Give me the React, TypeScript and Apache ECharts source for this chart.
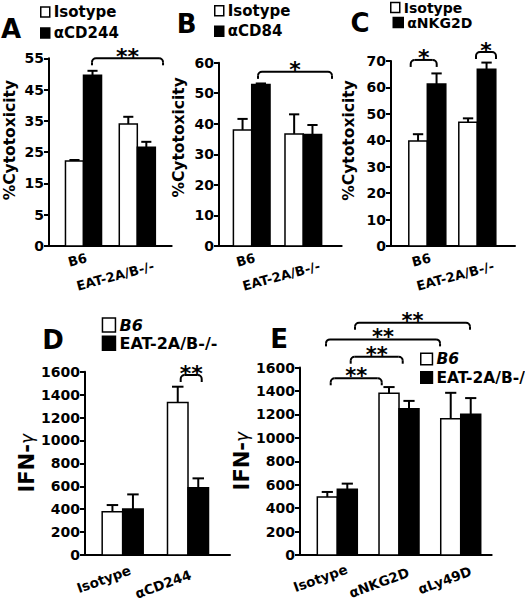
import React, { useEffect, useRef } from "react";
import * as echarts from "echarts";

const FONT = "DejaVu Sans";

// ---------- data ----------
const catABC = ["B6", "EAT-2A/B-/-"];
const catD = ["Isotype", "αCD244"];
const catE = ["Isotype", "αNKG2D", "αLy49D"];

const isoA = [22.2, 34.0];
const isoAErr = [0.3, 2.3];
const cd244A = [49.6, 26.6];
const cd244AErr = [1.4, 1.7];

const isoB = [38.0, 36.7];
const isoBErr = [3.6, 6.4];
const cd84B = [52.9, 36.5];
const cd84BErr = [0.3, 3.1];

const isoC = [39.7, 46.8];
const isoCErr = [2.6, 1.5];
const nkg2dC = [61.3, 66.9];
const nkg2dCErr = [4.0, 2.5];

const b6D = [378, 1332];
const b6DErr = [58, 137];
const eatD = [401, 588];
const eatDErr = [128, 81];

const b6E = [495, 1381, 1162];
const b6EErr = [43, 52, 222];
const eatE = [562, 1247, 1201];
const eatEErr = [47, 68, 138];

// y axis ranges [min, max, interval]
const yRangeA = [-5, 55, 10];
const yRangeB = [0, 60, 10];
const yRangeC = [0, 70, 10];
const yRangeD = [0, 1600, 200];
const yRangeE = [0, 1600, 200];

// significance brackets: [xStart, xEnd, yLevel, mark]
const sigA: [number, number, number, string][] = [[0.158, 1.478, 55, "**"]];
const sigB: [number, number, number, string][] = [[0.122, 1.556, 57, "*"]];
const sigC: [number, number, number, string][] = [
  [-0.332, 0.188, 70.4, "*"],
  [0.974, 1.374, 73.4, "*"],
];
const sigD: [number, number, number, string][] = [[0.888, 1.21, 1571, "**"]];
const sigE: [number, number, number, string][] = [
  [-0.107, 0.72, 1508, "**"],
  [0.217, 1.06, 1692, "**"],
  [-0.183, 1.665, 1840, "**"],
  [0.287, 2.15, 1982, "**"],
];

// ---------- styles ----------
const WHITE = { color: "#ffffff", borderColor: "#000", borderWidth: 1.5 };
const BLACK = { color: "#000000", borderColor: "#000", borderWidth: 1.5 };

// label centre offsets (px) from category position on the x axis
const labelOffABC = [[-6, 14], [-22, 30]];
const labelOffD = [[-19, 24], [-25, 29]];
const labelOffE = [[-17, 23], [-20, 27.5], [-16, 25]];

function barSeries(name: string, gi: number, vals: number[], errs: number[], side: number, bw: number, fill: string) {
  return {
    type: "custom",
    name,
    xAxisIndex: gi,
    yAxisIndex: gi,
    clip: false,
    itemStyle: { color: fill, borderColor: "#000", borderWidth: 1.5 },
    data: vals.map((v, i) => [i, v, errs[i]]),
    renderItem: (params: any, api: any) => {
      const i = api.value(0);
      const v = api.value(1);
      const e = api.value(2);
      const x0 = side < 0 ? i - bw : i;
      const x1 = side < 0 ? i : i + bw;
      const a = api.coord([x0, v]);
      const b = api.coord([x1, v]);
      const pe = api.coord([(x0 + x1) / 2, v + e]);
      const cs = params.coordSys;
      const bottom = cs.y + cs.height;
      const cx = (a[0] + b[0]) / 2;
      const ch = (b[0] - a[0]) * 0.28;
      return {
        type: "group",
        children: [
          { type: "line", shape: { x1: cx, y1: a[1], x2: cx, y2: pe[1] }, style: { stroke: "#000", lineWidth: 2 } },
          { type: "line", shape: { x1: cx - ch, y1: pe[1], x2: cx + ch, y2: pe[1] }, style: { stroke: "#000", lineWidth: 2 } },
          {
            type: "rect",
            shape: { x: a[0], y: a[1], width: b[0] - a[0], height: bottom - a[1] },
            style: { fill, stroke: "#000", lineWidth: 1.5 },
          },
        ],
      };
    },
  };
}

function sigSeries(gi: number, sig: [number, number, number, string][], fontSize: number) {
  return {
    type: "custom",
    name: "sig" + gi,
    xAxisIndex: gi,
    yAxisIndex: gi,
    clip: false,
    silent: true,
    data: sig.map((s) => [s[0], s[1], s[2]]),
    renderItem: (params: any, api: any) => {
      const p1 = api.coord([api.value(0), api.value(2)]);
      const p2 = api.coord([api.value(1), api.value(2)]);
      const yy = p1[1];
      const r = 4;
      const drop = 7;
      const st = { stroke: "#000", lineWidth: 2, fill: "none" };
      return {
        type: "group",
        children: [
          { type: "line", shape: { x1: p1[0] + r, y1: yy, x2: p2[0] - r, y2: yy }, style: st },
          { type: "arc", shape: { cx: p1[0] + r, cy: yy + r, r, startAngle: Math.PI, endAngle: Math.PI * 1.5, clockwise: true }, style: st },
          { type: "arc", shape: { cx: p2[0] - r, cy: yy + r, r, startAngle: Math.PI * 1.5, endAngle: Math.PI * 2, clockwise: true }, style: st },
          { type: "line", shape: { x1: p1[0], y1: yy + r, x2: p1[0], y2: yy + drop }, style: st },
          { type: "line", shape: { x1: p2[0], y1: yy + r, x2: p2[0], y2: yy + drop }, style: st },
          {
            type: "text",
            x: (p1[0] + p2[0]) / 2,
            y: yy - 2,
            style: {
              text: sig[params.dataIndex][3],
              fill: "#000",
              fontSize,
              fontWeight: "bold",
              fontFamily: FONT,
              align: "center",
              verticalAlign: "middle",
            },
          },
        ],
      };
    },
  };
}

function labelSeries(gi: number, cats: string[], yMin: number, offs: number[][], rotateDeg: number, fontSize: number) {
  return {
    type: "custom",
    name: "xlab" + gi,
    xAxisIndex: gi,
    yAxisIndex: gi,
    clip: false,
    silent: true,
    data: cats.map((_, i) => [i, yMin]),
    renderItem: (params: any, api: any) => {
      const p = api.coord([api.value(0), api.value(1)]);
      const o = offs[params.dataIndex];
      return {
        type: "text",
        x: p[0] + o[0],
        y: p[1] + o[1],
        rotation: (rotateDeg * Math.PI) / 180,
        style: {
          text: cats[params.dataIndex],
          fill: "#000",
          fontSize,
          fontWeight: "bold",
          fontFamily: FONT,
          align: "center",
          verticalAlign: "middle",
        },
      };
    },
  };
}

interface PanelCfg {
  grid: { left: number; top: number; width: number; height: number };
  xr: [number, number];
  yr: number[];
  name: string;
  nameGap: number;
  nameSize: number;
  namePad: number;
  zeroLabelAt?: number;
}

function axesFor(gi: number, c: PanelCfg) {
  const xAxis = {
    gridIndex: gi,
    type: "value",
    min: c.xr[0],
    max: c.xr[1],
    axisLine: { show: true, onZero: false, lineStyle: { color: "#000", width: 2 } },
    axisTick: { show: false },
    splitLine: { show: false },
    axisLabel: { show: false },
  };
  const yAxis = {
    gridIndex: gi,
    type: "value",
    min: c.yr[0],
    max: c.yr[1],
    interval: c.yr[2],
    axisLine: { show: true, onZero: false, lineStyle: { color: "#000", width: 2 } },
    axisTick: { show: true, length: 5, lineStyle: { color: "#000", width: 2 } },
    splitLine: { show: false },
    axisLabel: {
      margin: 5,
      fontSize: 14,
      fontWeight: "bold",
      fontFamily: FONT,
      color: "#000",
      formatter: (v: number) => (c.zeroLabelAt !== undefined && v === c.zeroLabelAt ? "0" : String(v)),
    },
    name: c.name,
    nameLocation: "middle",
    nameGap: c.nameGap,
    nameTextStyle: {
      fontSize: c.nameSize,
      fontWeight: "bold",
      fontFamily: FONT,
      color: "#000",
      padding: [0, 0, 0, c.namePad],
      rich: {
        g: { fontWeight: "normal", fontStyle: "italic", fontSize: c.nameSize * 0.8, fontFamily: FONT, color: "#000" },
      },
    },
  };
  return { xAxis, yAxis };
}

const panels: PanelCfg[] = [
  {
    grid: { left: 49, top: 58.3, width: 122.7, height: 187.7 },
    xr: [-0.641, 1.639],
    yr: yRangeA,
    name: "%Cytotoxicity",
    nameGap: 31,
    nameSize: 15.5,
    namePad: 24,
    zeroLabelAt: -5,
  },
  {
    grid: { left: 219, top: 62.7, width: 122.7, height: 183.3 },
    xr: [-0.634, 1.744],
    yr: yRangeB,
    name: "%Cytotoxicity",
    nameGap: 32,
    nameSize: 15.5,
    namePad: 34,
  },
  {
    grid: { left: 391, top: 61, width: 124, height: 185 },
    xr: [-0.726, 1.754],
    yr: yRangeC,
    name: "%Cytotoxicity",
    nameGap: 34,
    nameSize: 15.5,
    namePad: 26,
  },
  {
    grid: { left: 85, top: 371.7, width: 145, height: 183.3 },
    xr: [-0.577, 1.643],
    yr: yRangeD,
    name: "IFN-{g|γ}",
    nameGap: 46,
    nameSize: 21,
    namePad: 0,
  },
  {
    grid: { left: 300, top: 367.5, width: 191.7, height: 187.5 },
    xr: [-0.6045, 2.502],
    yr: yRangeE,
    name: "IFN-{g|γ}",
    nameGap: 45,
    nameSize: 21,
    namePad: 0,
  },
];

function legendItem(name: string, style: any, italic = false) {
  const it: any = { name, itemStyle: style };
  if (italic) it.textStyle = { fontStyle: "italic" };
  return it;
}

function legendBox(left: number, top: number, items: any[], iw: number, ih: number, gap: number, fs: number) {
  return {
    left,
    top,
    orient: "vertical",
    icon: "rect",
    itemWidth: iw,
    itemHeight: ih,
    itemGap: gap,
    selectedMode: false,
    padding: 0,
    textStyle: { fontSize: fs, fontWeight: "bold", fontFamily: FONT, color: "#000", padding: [0, 0, 0, -1] },
    data: items,
  };
}

function letter(t: string, x: number, y: number) {
  return {
    type: "text",
    x,
    y,
    style: {
      text: t,
      fill: "#000",
      fontSize: 26,
      fontWeight: "bold",
      fontFamily: FONT,
      align: "center",
      verticalAlign: "middle",
    },
  };
}

export default function App() {
  const ref = useRef<HTMLDivElement>(null);
  useEffect(() => {
    if (!ref.current) return;
    const chart = echarts.init(ref.current, undefined, { renderer: "svg" });
    const grids: any[] = [];
    const xAxes: any[] = [];
    const yAxes: any[] = [];
    panels.forEach((p, gi) => {
      grids.push({ ...p.grid, containLabel: false });
      const { xAxis, yAxis } = axesFor(gi, p);
      xAxes.push(xAxis);
      yAxes.push(yAxis);
    });
    const series: any[] = [
      barSeries("Isotype", 0, isoA, isoAErr, -1, 0.335, "#ffffff"),
      barSeries("αCD244", 0, cd244A, cd244AErr, 1, 0.335, "#000000"),
      sigSeries(0, sigA, 22),
      labelSeries(0, catABC, yRangeA[0], labelOffABC, 15, 13),
      barSeries("Isotype", 1, isoB, isoBErr, -1, 0.355, "#ffffff"),
      barSeries("αCD84", 1, cd84B, cd84BErr, 1, 0.355, "#000000"),
      sigSeries(1, sigB, 22),
      labelSeries(1, catABC, yRangeB[0], labelOffABC, 15, 13),
      barSeries("Isotype", 2, isoC, isoCErr, -1, 0.37, "#ffffff"),
      barSeries("αNKG2D", 2, nkg2dC, nkg2dCErr, 1, 0.37, "#000000"),
      sigSeries(2, sigC, 22),
      labelSeries(2, catABC, yRangeC[0], labelOffABC, 15, 13),
      barSeries("B6", 3, b6D, b6DErr, -1, 0.314, "#ffffff"),
      barSeries("EAT-2A/B-/-", 3, eatD, eatDErr, 1, 0.314, "#000000"),
      sigSeries(3, sigD, 22),
      labelSeries(3, catD, yRangeD[0], labelOffD, 20, 13.5),
      barSeries("B6", 4, b6E, b6EErr, -1, 0.324, "#ffffff"),
      barSeries("EAT-2A/B-/-", 4, eatE, eatEErr, 1, 0.324, "#000000"),
      sigSeries(4, sigE, 21),
      labelSeries(4, catE, yRangeE[0], labelOffE, 20, 13.5),
    ];
    chart.setOption({
      animation: false,
      backgroundColor: "#ffffff",
      textStyle: { fontFamily: FONT, fontWeight: "bold", color: "#000" },
      grid: grids,
      xAxis: xAxes,
      yAxis: yAxes,
      legend: [
        legendBox(40, 4.5, [legendItem("Isotype", WHITE), legendItem("αCD244", BLACK)], 9, 10, 6, 15),
        legendBox(214, 3.2, [legendItem("Isotype", WHITE), legendItem("αCD84", BLACK)], 9, 10, 5.6, 15),
        legendBox(390, 0.5, [legendItem("Isotype", WHITE)], 9, 10, 0, 14),
        legendBox(392.5, 15.5, [legendItem("αNKG2D", BLACK)], 10, 10, 0, 14),
        legendBox(101.7, 317, [legendItem("B6", WHITE, true), legendItem("EAT-2A/B-/-", BLACK)], 13, 14, 2.3, 16),
        legendBox(420, 351, [legendItem("B6", WHITE, true), legendItem("EAT-2A/B-/-", BLACK)], 11.7, 11.7, 2.5, 15.5),
      ],
      graphic: [
        letter("A", 11, 29),
        letter("B", 186.7, 24),
        letter("C", 360, 23),
        letter("D", 53, 340),
        letter("E", 279, 339),
      ],
      series,
    });
    return () => chart.dispose();
  }, []);
  return <div ref={ref} style={{ position: "absolute", left: 0, top: 0, width: 525, height: 600 }} />;
}
